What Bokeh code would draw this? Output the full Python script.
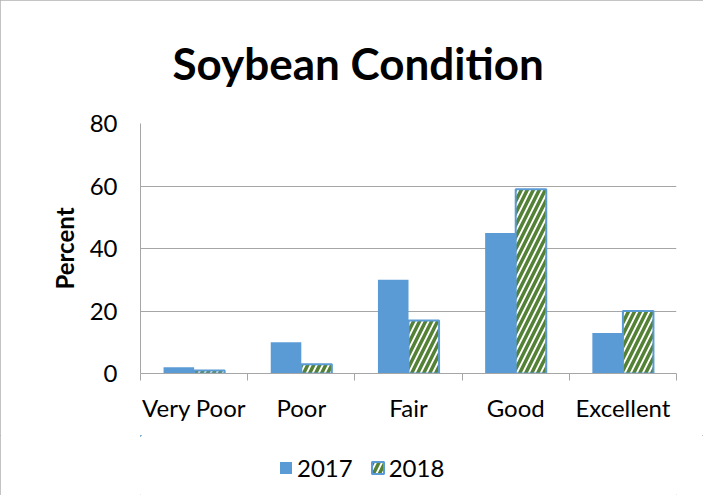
from bokeh.plotting import figure
from bokeh.layouts import column
from bokeh.models import FixedTicker, Legend, LegendItem, Range1d
from bokeh.embed import file_html
from bokeh.resources import INLINE

categories = ["Very Poor", "Poor", "Fair", "Good", "Excellent"]
values_2017 = [2, 10, 30, 45, 13]
values_2018 = [1, 3, 17, 59, 20]
series_names = ["2017", "2018"]
y_ticks = [0, 20, 40, 60, 80]

FONT = "Lato"
BLUE = "#5b9bd5"
GREEN = "#538135"
GRID = "#a6a6a6"

centers = [i + 0.5 for i in range(len(categories))]
bw = 0.285
x17 = [c - bw / 2 for c in centers]
x18 = [c + bw / 2 for c in centers]

style17 = dict(fill_color=BLUE, line_color=None)
style18 = dict(fill_color="white", line_color=BLUE, line_width=2,
               hatch_pattern="right_diagonal_line", hatch_color=GREEN,
               hatch_scale=12, hatch_weight=3.5)

p = figure(width=703, height=435, output_backend="svg", toolbar_location=None,
           x_range=Range1d(0, len(categories)), y_range=Range1d(0, 80),
           min_border_left=140, min_border_right=27, min_border_top=117, min_border_bottom=62)
p.outline_line_color = None

p.vbar(x=x17, top=values_2017, width=bw, **style17)
p.vbar(x=x18, top=values_2018, width=bw, **style18)

p.title.text = "Soybean Condition"
p.title.align = "left"
p.title.offset = 32
p.title.text_font = FONT
p.title.text_font_size = "44px"
p.title.text_font_style = "bold"
p.title.text_color = "black"
p.title.standoff = 69

# x axis
xa = p.xaxis[0]
xa.ticker = FixedTicker(ticks=centers, minor_ticks=list(range(len(categories) + 1)))
xa.major_label_overrides = {c: name for c, name in zip(centers, categories)}
xa.major_tick_line_color = None
xa.major_tick_out = 0
xa.minor_tick_line_color = GRID
xa.minor_tick_out = 7
xa.minor_tick_in = 0
xa.axis_line_color = GRID
xa.major_label_text_font = FONT
xa.major_label_text_font_size = "24px"
xa.major_label_text_color = "black"
xa.major_label_standoff = 12

ya = p.yaxis[0]
ya.ticker = FixedTicker(ticks=y_ticks, minor_ticks=[])
ya.major_tick_line_color = None
ya.major_tick_out = 0
ya.axis_line_color = GRID
ya.major_label_text_font = FONT
ya.major_label_text_font_size = "24px"
ya.major_label_text_color = "black"
ya.major_label_standoff = 23
ya.axis_label = "Percent"
ya.axis_label_text_font = FONT
ya.axis_label_text_font_size = "24px"
ya.axis_label_text_font_style = "bold"
ya.axis_label_text_color = "black"
ya.axis_label_standoff = 8

p.xgrid.grid_line_color = None
p.ygrid.grid_line_color = GRID
p.ygrid.ticker = FixedTicker(ticks=y_ticks)

# legend strip (same bars, drawn far outside its visible range so only the legend shows)
lf = figure(width=703, height=60, output_backend="svg", toolbar_location=None,
            x_range=Range1d(1000, 1001), y_range=Range1d(-1000, -999),
            min_border=0, x_axis_type=None, y_axis_type=None)
lf.outline_line_color = None
lf.xgrid.visible = False
lf.ygrid.visible = False
l17 = lf.vbar(x=x17, top=values_2017, width=bw, **style17)
l18 = lf.vbar(x=x18, top=values_2018, width=bw, **style18)
legend = Legend(items=[LegendItem(label=series_names[0], renderers=[l17]),
                       LegendItem(label=series_names[1], renderers=[l18])],
                orientation="horizontal", location=(138, 13),
                border_line_color=None, background_fill_alpha=0,
                label_text_font=FONT, label_text_font_size="24px",
                label_text_color="black",
                glyph_width=15, glyph_height=15, spacing=17, label_standoff=4,
                margin=0, padding=0)
lf.add_layout(legend, "center")

layout = column(p, lf, spacing=0)
layout.styles = {"outline": "1px solid #b0b0b0", "outline-offset": "-1px"}
open("out.html", "w").write(file_html(layout, INLINE))
